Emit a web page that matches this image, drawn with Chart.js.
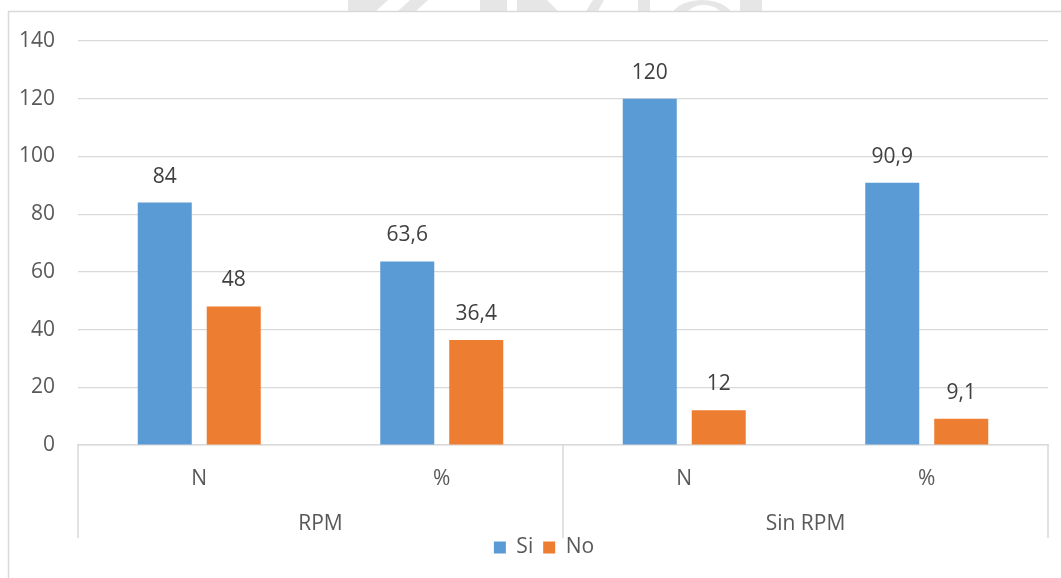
<!DOCTYPE html>
<html>
<head>
<meta charset="utf-8">
<script src="https://cdn.jsdelivr.net/npm/chart.js@4/dist/chart.umd.min.js"></script>
<style>
  html, body { margin: 0; padding: 0; background: #ffffff; }
  #wrap { position: relative; width: 1061px; height: 578px; }
</style>
</head>
<body>
<div id="wrap"><canvas id="chart"></canvas></div>
<script>
// Sub-categories on the axis, and the groups they belong to
const categories = ['N', '%', 'N', '%'];
const groups = ['RPM', 'Sin RPM'];
const groupSpans = [[0, 1], [2, 3]];

// Series values
const siValues = [84, 63.6, 120, 90.9];
const noValues = [48, 36.4, 12, 9.1];

// Value axis
const yTicks = [0, 20, 40, 60, 80, 100, 120, 140];

const FONT = "'Open Sans', 'Liberation Sans', sans-serif";
const TEXT = '#595959';
const LINE = '#d9d9d9';

const fmt = v => String(v).replace('.', ',');

// Faint letterforms peeking above the chart frame
const backdrop = {
  id: 'backdrop',
  beforeDraw(chart) {
    const ctx = chart.ctx;
    ctx.save();
    ctx.fillStyle = '#e6e6e6';
    const shapes = [
      [[348, 0], [388, 0], [376, 11], [348, 11]],
      [[410, 0], [428, 0], [416, 11], [398, 11]],
      [[480, 0], [507, 0], [507, 11], [480, 11]],
      [[517, 0], [547, 0], [558, 11], [517, 11]],
      [[593, 0], [604, 0], [598, 11], [586, 11]],
      [[638, 0], [650, 0], [650, 11], [638, 11]],
      [[740, 0], [762, 0], [762, 11], [740, 11]]
    ];
    shapes.forEach(s => {
      ctx.beginPath();
      s.forEach((p, i) => i ? ctx.lineTo(p[0], p[1]) : ctx.moveTo(p[0], p[1]));
      ctx.closePath();
      ctx.fill();
    });
    // ring
    ctx.beginPath();
    ctx.ellipse(702, 20, 32, 20, 0, Math.PI, 2 * Math.PI);
    ctx.lineTo(734, 11); ctx.lineTo(670, 11); ctx.closePath();
    ctx.fill();
    ctx.fillStyle = '#ffffff';
    ctx.beginPath();
    ctx.ellipse(704, 22, 21, 17, 0, Math.PI, 2 * Math.PI);
    ctx.closePath();
    ctx.fill();
    // chart frame
    ctx.strokeStyle = LINE;
    ctx.lineWidth = 1.5;
    ctx.fillStyle = '#ffffff';
    ctx.fillRect(8.5, 11.5, 1200, 700);
    ctx.strokeRect(8.5, 11.5, 1200, 700);
    ctx.restore();
  }
};

// Legend sits a little right of the canvas centre, under the plot
const legendShift = {
  id: 'legendShift',
  afterLayout(chart) {
    const lg = chart.legend;
    if (lg) { lg.left += 20; lg.right += 20; }
  }
};

// Value labels above each bar
const valueLabels = {
  id: 'valueLabels',
  afterDatasetsDraw(chart) {
    const ctx = chart.ctx;
    ctx.save();
    ctx.font = '21px ' + FONT;
    ctx.fillStyle = '#404040';
    ctx.textAlign = 'center';
    ctx.textBaseline = 'middle';
    chart.data.datasets.forEach((ds, di) => {
      chart.getDatasetMeta(di).data.forEach((bar, i) => {
        ctx.fillText(fmt(ds.data[i]), bar.x, bar.y - 26);
      });
    });
    ctx.restore();
  }
};

// Second level of the category axis: dividers and group names
const groupAxis = {
  id: 'groupAxis',
  afterDraw(chart) {
    const x = chart.scales.x;
    const ctx = chart.ctx;
    const top = chart.chartArea.bottom;
    const bottom = top + 93;
    const edges = [];
    groupSpans.forEach(([a, b]) => {
      const left = a === 0 ? x.left : (x.getPixelForTick(a - 1) + x.getPixelForTick(a)) / 2;
      const right = b === categories.length - 1 ? x.right : (x.getPixelForTick(b) + x.getPixelForTick(b + 1)) / 2;
      edges.push(left, right);
    });
    ctx.save();
    ctx.strokeStyle = LINE;
    ctx.lineWidth = 1.5;
    [...new Set(edges.map(e => Math.round(e)))].forEach(e => {
      ctx.beginPath();
      ctx.moveTo(e, top);
      ctx.lineTo(e, bottom);
      ctx.stroke();
    });
    ctx.font = '21px ' + FONT;
    ctx.fillStyle = TEXT;
    ctx.textAlign = 'center';
    ctx.textBaseline = 'middle';
    groups.forEach((g, gi) => {
      ctx.fillText(g, (edges[gi * 2] + edges[gi * 2 + 1]) / 2, top + 79);
    });
    ctx.restore();
  }
};

new Chart(document.getElementById('chart'), {
  type: 'bar',
  data: {
    labels: categories,
    datasets: [
      { label: 'Si', data: siValues, backgroundColor: '#5b9bd5' },
      { label: 'No', data: noValues, backgroundColor: '#ed7d31' }
    ]
  },
  options: {
    responsive: true,
    maintainAspectRatio: false,
    animation: false,
    devicePixelRatio: 1,
    categoryPercentage: 0.569,
    barPercentage: 0.783,
    layout: { padding: { left: 0, right: 13, top: 41, bottom: 10 } },
    font: { family: FONT, size: 21 },
    scales: {
      x: {
        grid: { display: false },
        border: { display: true, color: LINE, width: 1.5 },
        ticks: { color: TEXT, padding: 13, font: { family: FONT, size: 21 } },
        afterFit(scale) { scale.height = 82; }
      },
      y: {
        min: 0,
        max: 140,
        afterBuildTicks(scale) { scale.ticks = yTicks.map(v => ({ value: v })); },
        grid: { color: LINE, lineWidth: 1.2, drawTicks: false },
        border: { display: false },
        ticks: { color: TEXT, padding: 23, font: { family: FONT, size: 21 } },
        afterFit(scale) { scale.width = 78; }
      }
    },
    plugins: {
      legend: {
        position: 'bottom',
        labels: {
          boxWidth: 12,
          boxHeight: 12,
          padding: 10,
          color: TEXT,
          font: { family: FONT, size: 21 }
        }
      },
      tooltip: { enabled: false }
    }
  },
  plugins: [backdrop, legendShift, valueLabels, groupAxis]
});
</script>
</body>
</html>
